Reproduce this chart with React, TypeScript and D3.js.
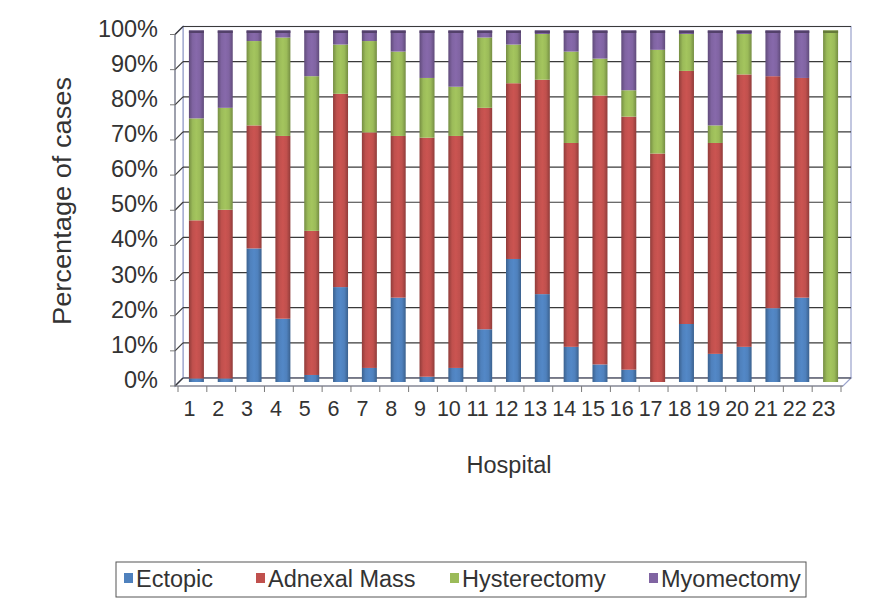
import React from 'react';
import * as d3 from 'd3';

const hospitals = ['1','2','3','4','5','6','7','8','9','10','11','12','13','14','15','16','17','18','19','20','21','22','23'];
const seriesNames = ['Ectopic', 'Adnexal Mass', 'Hysterectomy', 'Myomectomy'];
const ectopic = [1, 1, 38, 18, 2, 27, 4, 24, 1.5, 4, 15, 35, 25, 10, 5, 3.5, 0, 16.5, 8, 10, 21, 24, 0];
const adnexalMass = [45, 48, 35, 52, 41, 55, 67, 46, 68, 66, 63, 50, 61, 58, 76.5, 72, 65, 72, 60, 77.5, 66, 62.5, 0];
const hysterectomy = [29, 29, 24, 28, 44, 14, 26, 24, 17, 14, 20, 11, 13, 26, 10.5, 7.5, 29.5, 10.5, 5, 11.5, 0, 0, 100];
const myomectomy = [25, 22, 3, 2, 13, 4, 3, 6, 13.5, 16, 2, 4, 1, 6, 8, 17, 5.5, 1, 27, 1, 13, 13.5, 0];
const yTicks = [0, 10, 20, 30, 40, 50, 60, 70, 80, 90, 100];
const colors = ['#4F81BD', '#C0504D', '#9BBB59', '#8064A2'];

const FONT = 'Liberation Sans, Arial, sans-serif';

export default function App() {
  const depth = 8;
  const wallLeft = 183;
  const wallRight = 851;
  const yBack = d3.scaleLinear().domain([0, 100]).range([378, 26.5]);
  const yBar = d3.scaleLinear().domain([0, 100]).range([382, 30.5]);
  const x = d3.scaleBand<string>().domain(hospitals).range([178, 841]).padding(0);
  const bw = x.bandwidth();
  const barW = 15;
  const barOffset = 4;

  const rows = hospitals.map((h, i) => ({
    h,
    Ectopic: ectopic[i],
    'Adnexal Mass': adnexalMass[i],
    Hysterectomy: hysterectomy[i],
    Myomectomy: myomectomy[i],
  }));
  const stacked = d3.stack<any>().keys(seriesNames)(rows);

  const topOf = hospitals.map((_, i) => {
    let idx = 0;
    stacked.forEach((s, k) => { if (s[i][1] - s[i][0] > 0) idx = k; });
    return idx;
  });

  const frontLeft = wallLeft - depth;
  const floorFront = yBack(0) + depth;
  const textColor = '#333';

  return (
    <svg width={882} height={602} style={{ position: 'absolute', left: 0, top: 0, background: '#fff' }} fontFamily={FONT}>
      <defs>
        {colors.map((c, k) => {
          const dark = d3.color(c)!.darker(0.8).formatHex();
          const light = d3.color(c)!.brighter(0.15).formatHex();
          return (
            <linearGradient key={k} id={`g${k}`} x1="0" x2="1" y1="0" y2="0">
              <stop offset="0" stopColor={dark} />
              <stop offset="0.25" stopColor={c} />
              <stop offset="0.5" stopColor={light} />
              <stop offset="0.75" stopColor={c} />
              <stop offset="1" stopColor={dark} />
            </linearGradient>
          );
        })}
      </defs>

      {/* back wall */}
      <rect x={wallLeft} y={yBack(100)} width={wallRight - wallLeft} height={yBack(0) - yBack(100)} fill="#fff" stroke="#9aa2cc" strokeWidth={1.2} />
      {/* left wall */}
      <polygon
        points={`${wallLeft},${yBack(100)} ${wallLeft},${yBack(0)} ${frontLeft},${floorFront} ${frontLeft},${yBack(100) + depth}`}
        fill="#fff" stroke="#9aa2cc" strokeWidth={1.2} />
      {/* floor */}
      <polygon
        points={`${wallLeft},${yBack(0)} ${wallRight},${yBack(0)} ${wallRight - depth},${floorFront} ${frontLeft},${floorFront}`}
        fill="#fff" stroke="#9aa2cc" strokeWidth={1.2} />

      {/* gridlines */}
      {yTicks.map(t => (
        <g key={t}>
          <line x1={wallLeft} x2={wallRight} y1={yBack(t)} y2={yBack(t)} stroke="#3a3a3a" strokeWidth={1.2} />
          <line x1={frontLeft} x2={wallLeft} y1={yBack(t) + depth} y2={yBack(t)} stroke="#3a3a3a" strokeWidth={1.2} />
        </g>
      ))}

      {/* bars */}
      {stacked.map((s, k) => (
        <g key={seriesNames[k]}>
          {s.map((d, i) => {
            const h = yBar(d[0]) - yBar(d[1]);
            if (h <= 0) return null;
            const bx = (x(hospitals[i]) as number) + bw / 2 + barOffset - barW / 2;
            return <rect key={i} x={bx} y={yBar(d[1])} width={barW} height={h} fill={`url(#g${k})`} />;
          })}
        </g>
      ))}
      {/* bar caps */}
      {hospitals.map((hname, i) => {
        const k = topOf[i];
        const bx = (x(hname) as number) + bw / 2 + barOffset - barW / 2;
        const yt = yBar(100);
        return <rect key={hname} x={bx} y={yt} width={barW} height={2.5} fill={d3.color(colors[k])!.darker(1.2).formatHex()} />;
      })}

      {/* y axis */}
      <line x1={frontLeft} x2={frontLeft} y1={yBack(100) + depth} y2={floorFront} stroke="#7a7a7a" strokeWidth={1} />
      {yTicks.map(t => (
        <g key={t}>
          <line x1={frontLeft - 5} x2={frontLeft} y1={yBack(t) + depth} y2={yBack(t) + depth} stroke="#7a7a7a" />
          <text x={158} y={yBack(t) + 2} textAnchor="end" dominantBaseline="central" fontSize={23.5} fill={textColor}>{t}%</text>
        </g>
      ))}

      {/* x axis */}
      <line x1={frontLeft} x2={wallRight - depth} y1={floorFront} y2={floorFront} stroke="#7a7a7a" strokeWidth={1} />
      {hospitals.map(hname => (
        <line key={'t' + hname} x1={x(hname) as number} x2={x(hname) as number} y1={floorFront} y2={floorFront + 6} stroke="#7a7a7a" />
      ))}
      <line x1={841} x2={841} y1={floorFront} y2={floorFront + 6} stroke="#7a7a7a" />
      {hospitals.map(hname => (
        <text key={'l' + hname} x={(x(hname) as number) + bw / 2 - 3} y={409} textAnchor="middle" dominantBaseline="central" fontSize={21.5} fill={textColor}>{hname}</text>
      ))}

      {/* axis titles */}
      <text x={509} y={465} textAnchor="middle" dominantBaseline="central" fontSize={23.5} fill={textColor}>Hospital</text>
      <text transform="translate(62,201) rotate(-90)" textAnchor="middle" dominantBaseline="central" fontSize={25} textLength={248} lengthAdjust="spacingAndGlyphs" fill={textColor}>Percentage of cases</text>

      {/* legend */}
      <rect x={116} y={562} width={690} height={35} fill="#fff" stroke="#555" strokeWidth={1} />
      {(() => {
        const items = [124, 256, 450, 649];
        return seriesNames.map((n, k) => (
          <g key={n}>
            <rect x={items[k]} y={573} width={9} height={10} fill={colors[k]} />
            <text x={items[k] + 12} y={579} dominantBaseline="central" fontSize={23.5} fill={textColor}>{n}</text>
          </g>
        ));
      })()}
    </svg>
  );
}
